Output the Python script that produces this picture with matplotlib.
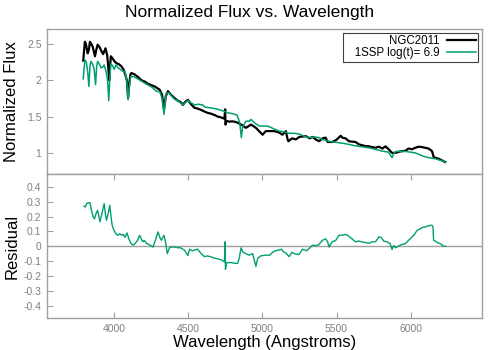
import matplotlib
matplotlib.use("Agg")
import matplotlib.pyplot as plt

plt.rcParams["font.family"] = ["Liberation Sans", "DejaVu Sans"]
plt.rcParams["axes.unicode_minus"] = False

# NGC2011 observed spectrum (wavelength in Angstrom, normalized flux)
obs_wl = [3794, 3805, 3812, 3824, 3832, 3839, 3848, 3858, 3873, 3882, 3891, 3903,
          3918, 3928, 3944, 3955, 3962, 3969, 3975, 3980, 3992, 4005, 4018, 4035,
          4052, 4065, 4074, 4088, 4096, 4104, 4112, 4119, 4140, 4160, 4186, 4210,
          4230, 4255, 4275, 4309, 4325, 4338, 4350, 4365, 4385, 4409, 4430, 4450,
          4465, 4480, 4499, 4520, 4544, 4565, 4590, 4610, 4633, 4655, 4680, 4700,
          4720, 4745, 4750, 4752, 4760, 4780, 4800, 4830, 4857, 4890, 4924, 4957,
          5002, 5024, 5080, 5114, 5136, 5159, 5170, 5176, 5200, 5226, 5250, 5293,
          5320, 5338, 5360, 5383, 5405, 5427, 5440, 5472, 5500, 5528, 5539, 5561,
          5584, 5628, 5651, 5696, 5718, 5763, 5785, 5810, 5830, 5852, 5874, 5897,
          5930, 5964, 5986, 6009, 6030, 6053, 6075, 6098, 6120, 6143, 6150, 6154,
          6165, 6188, 6210, 6232]
obs_flux = [2.27, 2.53, 2.50, 2.37, 2.42, 2.53, 2.50, 2.46, 2.33, 2.42, 2.49, 2.46,
            2.395, 2.36, 2.44, 2.35, 2.20, 2.00, 2.20, 2.33, 2.30, 2.26, 2.235, 2.22,
            2.19, 2.15, 2.10, 2.00, 1.76, 1.95, 2.08, 2.10, 2.08, 2.05, 2.00, 1.98,
            1.95, 1.93, 1.915, 1.87, 1.80, 1.60, 1.78, 1.85, 1.80, 1.755, 1.72, 1.70,
            1.66, 1.70, 1.73, 1.67, 1.62, 1.61, 1.59, 1.57, 1.55, 1.54, 1.52, 1.50,
            1.49, 1.47, 1.60, 1.39, 1.44, 1.43, 1.435, 1.42, 1.39, 1.345, 1.39, 1.345,
            1.25, 1.30, 1.30, 1.28, 1.25, 1.30, 1.19, 1.16, 1.20, 1.185, 1.22, 1.23,
            1.20, 1.22, 1.185, 1.16, 1.20, 1.21, 1.15, 1.15, 1.18, 1.236, 1.21, 1.20,
            1.16, 1.15, 1.117, 1.093, 1.09, 1.07, 1.085, 1.06, 1.09, 1.048, 1.00, 1.00,
            1.02, 1.03, 1.06, 1.05, 1.07, 1.085, 1.08, 1.07, 1.06, 1.025, 0.98, 0.94,
            0.934, 0.92, 0.897, 0.875]

# 1SSP model, log(t) = 6.9
mod_wl = [3794, 3805, 3815, 3825, 3832, 3840, 3846, 3858, 3868, 3877, 3885, 3891,
          3903, 3915, 3925, 3935, 3948, 3958, 3966, 3974, 3980, 3992, 4002, 4015,
          4030, 4045, 4063, 4075, 4088, 4096, 4104, 4114, 4135, 4160, 4185, 4208,
          4235, 4260, 4286, 4310, 4325, 4338, 4346, 4353, 4370, 4390, 4409, 4430,
          4465, 4480, 4499, 4520, 4544, 4570, 4599, 4615, 4650, 4680, 4700, 4745,
          4770, 4800, 4830, 4848, 4859, 4868, 4890, 4913, 4924, 4945, 4957, 4980,
          5002, 5036, 5080, 5114, 5150, 5181, 5215, 5248, 5280, 5315, 5350, 5382,
          5410, 5449, 5480, 5516, 5550, 5584, 5620, 5651, 5685, 5718, 5760, 5807,
          5850, 5874, 5885, 5900, 5964, 6000, 6031, 6065, 6098, 6130, 6165, 6195,
          6221, 6235]
mod_flux = [2.02, 2.28, 2.25, 2.10, 1.915, 2.20, 2.26, 2.22, 2.15, 1.94, 2.20, 2.26,
            2.22, 2.17, 2.18, 2.21, 2.12, 2.00, 1.72, 2.05, 2.23, 2.20, 2.15, 2.21,
            2.17, 2.15, 2.12, 2.12, 1.98, 1.73, 1.90, 2.05, 2.05, 2.02, 1.99, 1.96,
            1.93, 1.90, 1.85, 1.84, 1.75, 1.53, 1.70, 1.82, 1.83, 1.78, 1.74, 1.72,
            1.66, 1.69, 1.72, 1.69, 1.66, 1.67, 1.66, 1.63, 1.62, 1.61, 1.60, 1.573,
            1.55, 1.54, 1.52, 1.42, 1.21, 1.36, 1.436, 1.436, 1.46, 1.42, 1.40, 1.37,
            1.37, 1.37, 1.33, 1.30, 1.29, 1.27, 1.27, 1.26, 1.23, 1.21, 1.22, 1.21,
            1.18, 1.16, 1.15, 1.14, 1.13, 1.117, 1.10, 1.09, 1.08, 1.07, 1.05, 1.025,
            1.01, 0.934, 0.99, 1.02, 1.02, 1.01, 1.00, 0.97, 0.945, 0.93, 0.92, 0.90,
            0.888, 0.875]

# residual (observed - model)
res_wl = [3799, 3808, 3817, 3839, 3850, 3861, 3870, 3880, 3891, 3900, 3906, 3920,
          3935, 3943, 3951, 3962, 3973, 3980, 3989, 4000, 4007, 4018, 4029, 4040,
          4052, 4065, 4075, 4089, 4100, 4115, 4130, 4145, 4160, 4174, 4185, 4195,
          4205, 4220, 4240, 4264, 4280, 4298, 4310, 4320, 4338, 4350, 4360, 4375,
          4390, 4410, 4430, 4450, 4477, 4499, 4510, 4530, 4545, 4565, 4580, 4595,
          4610, 4630, 4650, 4678, 4700, 4720, 4745, 4750, 4752, 4760, 4790, 4815,
          4834, 4845, 4857, 4870, 4890, 4910, 4935, 4957, 4970, 4990, 5020, 5050,
          5070, 5090, 5114, 5130, 5140, 5158, 5181, 5200, 5215, 5248, 5270, 5300,
          5338, 5360, 5380, 5405, 5427, 5440, 5450, 5470, 5495, 5517, 5540, 5561,
          5580, 5610, 5628, 5650, 5670, 5695, 5720, 5740, 5763, 5785, 5800, 5818,
          5840, 5860, 5874, 5885, 5898, 5915, 5935, 5964, 5985, 6009, 6025, 6043,
          6060, 6076, 6095, 6109, 6125, 6143, 6150, 6154, 6165, 6180, 6198, 6210,
          6221, 6235]
res_val = [0.27, 0.265, 0.29, 0.295, 0.24, 0.198, 0.185, 0.22, 0.243, 0.20, 0.165, 0.22,
           0.288, 0.22, 0.176, 0.22, 0.277, 0.21, 0.142, 0.11, 0.097, 0.08, 0.074, 0.085,
           0.075, 0.08, 0.06, 0.09, 0.053, 0.02, 0.007, 0.02, 0.04, 0.074, 0.05, 0.03,
           0.04, 0.02, 0.01, -0.005, 0.04, 0.097, 0.06, 0.04, 0.074, 0.02, -0.05, -0.01,
           -0.005, -0.005, -0.01, -0.01, -0.027, -0.063, -0.02, -0.03, -0.025, -0.02, -0.04, -0.055,
           -0.07, -0.065, -0.07, -0.08, -0.085, -0.09, -0.105, 0.03, -0.155, -0.11, -0.11, -0.115,
           -0.115, -0.08, -0.01, -0.04, -0.05, -0.06, -0.05, -0.135, -0.08, -0.065, -0.06, -0.06,
           -0.04, -0.03, -0.025, -0.02, -0.035, -0.045, -0.07, -0.04, -0.05, -0.056, -0.02, -0.03,
           0.007, 0.005, 0.01, 0.04, 0.05, 0.03, -0.005, 0.03, 0.04, 0.074, 0.075, 0.08,
           0.07, 0.045, 0.03, 0.035, 0.03, 0.025, 0.02, 0.03, 0.03, 0.063, 0.06, 0.035,
           0.03, 0.02, -0.022, 0.005, -0.01, 0.0, 0.01, 0.018, 0.04, 0.063, 0.08, 0.108,
           0.115, 0.126, 0.13, 0.135, 0.14, 0.142, 0.13, 0.04, 0.035, 0.025, 0.018, 0.01,
           0.0, 0.0]

flux_ticks = [1, 1.5, 2, 2.5]
res_ticks = [-0.4, -0.3, -0.2, -0.1, 0, 0.1, 0.2, 0.3, 0.4]
wl_ticks = [4000, 4500, 5000, 5500, 6000]

green = "#009e73"
frame = "#a0a0a0"
tickc = "#808080"

fig = plt.figure(figsize=(5, 3.5), dpi=100)
ax1 = fig.add_axes([0.094, 0.503, 0.87, 0.414])
ax2 = fig.add_axes([0.094, 0.091, 0.87, 0.412], sharex=ax1)

ax1.plot(obs_wl, obs_flux, color="black", lw=1.6, label="NGC2011")
ax1.plot(mod_wl, mod_flux, color=green, lw=1.1, label="   1SSP log(t)= 6.9")
ax2.plot(res_wl, res_val, color=green, lw=1.0)
ax2.axhline(0, color=frame, lw=1.0, zorder=0)

ax1.set_xlim(3550, 6480)
ax1.set_ylim(0.71, 2.705)
ax2.set_ylim(-0.485, 0.488)

ax1.set_yticks(flux_ticks)
ax1.set_yticklabels(["%g" % t for t in flux_ticks])
ax2.set_yticks(res_ticks)
ax2.set_yticklabels(["%g" % t for t in res_ticks])
ax2.set_xticks(wl_ticks)
ax2.set_xticklabels([str(t) for t in wl_ticks])

for ax in (ax1, ax2):
    for s in ax.spines.values():
        s.set_color(frame)
        s.set_linewidth(1.0)
    ax.tick_params(direction="in", color=frame, labelcolor=tickc, labelsize=7.5,
                   length=4, top=True, pad=4)
ax1.tick_params(axis="x", bottom=False, top=False, labelbottom=False)

leg = ax1.legend(loc="upper right", markerfirst=False, fontsize=8.3, frameon=True,
                 fancybox=False, edgecolor="#404040", framealpha=1, handlelength=2.5,
                 borderpad=0.2, labelspacing=0.0, handletextpad=0.6,
                 borderaxespad=0.35)
leg.get_frame().set_linewidth(0.8)

fig.text(0.5, 0.963, "Normalized Flux vs. Wavelength", ha="center", va="center", fontsize=12.5)
fig.text(0.024, 0.71, "Normalized Flux", rotation=90, ha="center", va="center", fontsize=12)
fig.text(0.024, 0.295, "Residual", rotation=90, ha="center", va="center", fontsize=12)
fig.text(0.53, 0.022, "Wavelength (Angstroms)", ha="center", va="center", fontsize=12)

fig.savefig("out.png", dpi=100)
